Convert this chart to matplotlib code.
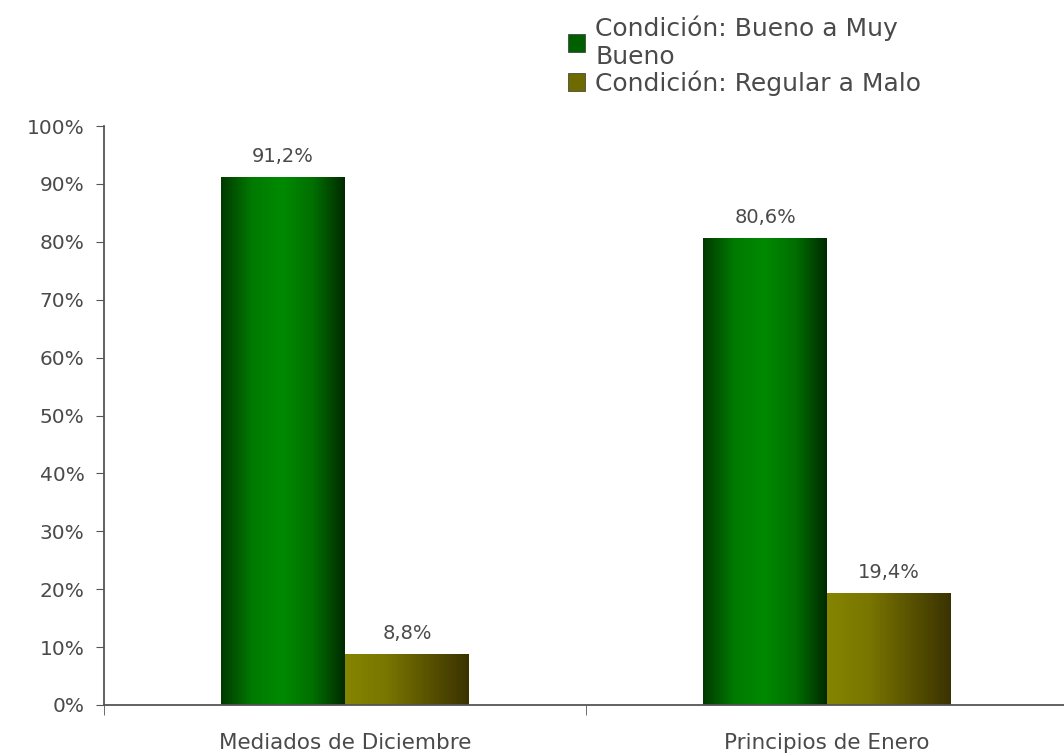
import numpy as np
import matplotlib.pyplot as plt
from matplotlib.colors import LinearSegmentedColormap
from matplotlib.patches import Patch
from matplotlib.ticker import FixedLocator, PercentFormatter

categorias = ["Mediados de Diciembre", "Principios de Enero"]
bueno = [91.2, 80.6]
regular = [8.8, 19.4]
series = ["Condición: Bueno a Muy\nBueno", "Condición: Regular a Malo"]

gris = "#4a4a4a"
fig = plt.figure(figsize=(10.64, 7.56), dpi=100)
ax = fig.add_axes([104 / 1064, 1 - 705 / 756, 964 / 1064, (705 - 126) / 756])

x = np.arange(len(categorias))
ancho = 0.257
b1 = ax.bar(x - ancho / 2, bueno, ancho, color="none", edgecolor="none")
b2 = ax.bar(x + ancho / 2, regular, ancho, color="none", edgecolor="none")

# degradados horizontales dentro de cada barra
cm_verde = LinearSegmentedColormap.from_list("v", ["#003a00", "#007a00", "#008a00", "#006e00", "#002a00"])
cm_oliva = LinearSegmentedColormap.from_list("o", ["#858500", "#7a7600", "#5a5300", "#3a3300"])
grad = np.linspace(0, 1, 256).reshape(1, -1)
for barras, cm in ((b1, cm_verde), (b2, cm_oliva)):
    for r in barras:
        x0, y0 = r.get_x(), r.get_y()
        w, h = r.get_width(), r.get_height()
        im = ax.imshow(grad, cmap=cm, aspect="auto", extent=[x0, x0 + w, y0, y0 + h],
                       zorder=2, interpolation="bicubic")
        im.set_clip_path(r)

for barras, vals in ((b1, bueno), (b2, regular)):
    for r, v in zip(barras, vals):
        ax.text(r.get_x() + r.get_width() / 2, v + 1.9, f"{v:.1f}%".replace(".", ","),
                ha="center", va="bottom", fontsize=14, color=gris)

ax.set_xlim(-0.5, 1.5)
ax.set_ylim(0, 100)
ax.yaxis.set_major_locator(FixedLocator(np.arange(0, 101, 10)))
ax.yaxis.set_major_formatter(PercentFormatter(decimals=0))
ax.set_xticks(x)
ax.set_xticklabels(categorias)
ax.set_xticks([-0.5, 0.5, 1.5], minor=True)
ax.tick_params(axis="x", which="major", length=0, pad=20, labelsize=15.5, labelcolor=gris)
ax.tick_params(axis="x", which="minor", length=7, color="#555555")
ax.tick_params(axis="y", length=6, color="#555555", labelsize=14.5, labelcolor=gris, pad=8)
for s in ("top", "right"):
    ax.spines[s].set_visible(False)
for s in ("left", "bottom"):
    ax.spines[s].set_color("#555555")
    ax.spines[s].set_linewidth(1.3)

handles = [Patch(facecolor="#006000", edgecolor="#333333", linewidth=0.5),
           Patch(facecolor="#6e6a00", edgecolor="#333333", linewidth=0.5)]
fig.legend(handles, series, loc="upper left", bbox_to_anchor=(550 / 1064, 1 + 2 / 756),
           frameon=False, fontsize=18, labelcolor=gris, handlelength=0.7, handleheight=0.7,
           handletextpad=0.4, labelspacing=0.05, borderpad=0.2)

fig.savefig("out.png", dpi=100)
